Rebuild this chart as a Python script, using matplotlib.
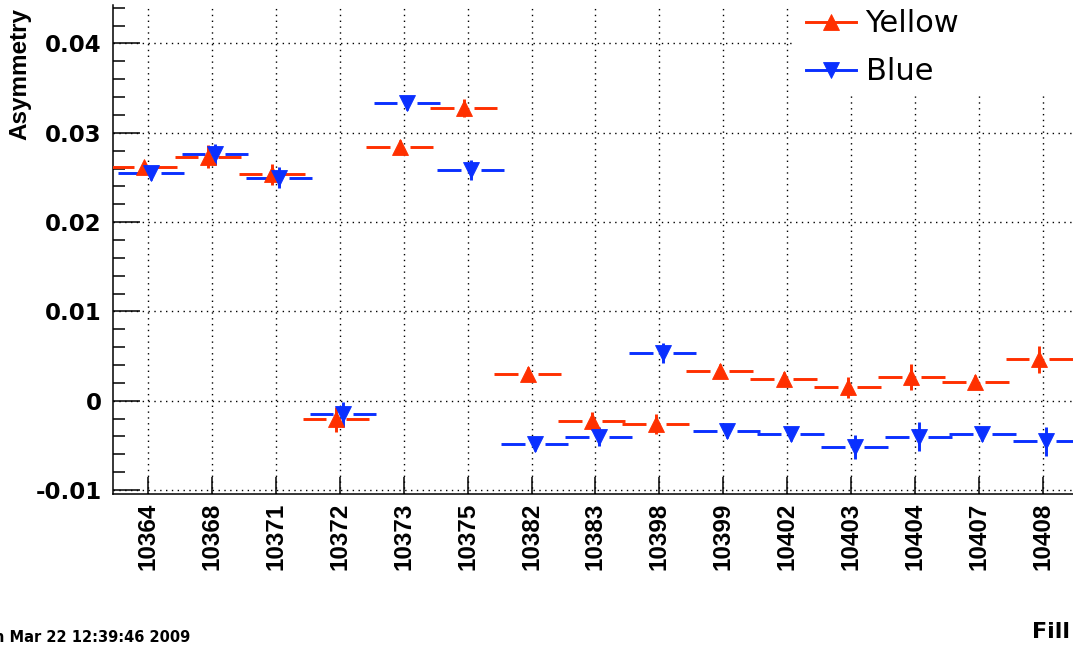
import matplotlib
matplotlib.use("Agg")
import matplotlib.pyplot as plt
from matplotlib import font_manager
from matplotlib.collections import LineCollection
from matplotlib.lines import Line2D
from matplotlib.patches import Rectangle
from matplotlib.ticker import FixedLocator, MultipleLocator
import numpy as np

# ---- data -------------------------------------------------------------
fills = ["10364", "10368", "10371", "10372", "10373", "10375", "10382", "10383",
         "10398", "10399", "10402", "10403", "10404", "10407", "10408"]

yellow = [0.02614, 0.02732, 0.02535, -0.00209, 0.02838, 0.03281, 0.00302, -0.00224,
          -0.00258, 0.00333, 0.00246, 0.00150, 0.00265, 0.00206, 0.00464]
yellow_err = [0.0006, 0.0013, 0.0012, 0.0014, 0.0008, 0.0010, 0.0008, 0.0010,
              0.0011, 0.0008, 0.0008, 0.0012, 0.0015, 0.0008, 0.0015]

blue = [0.02546, 0.02759, 0.02497, -0.00153, 0.03337, 0.02580, -0.00489, -0.00403,
        0.00531, -0.00339, -0.00373, -0.00518, -0.00403, -0.00373, -0.00455]
blue_err = [0.0008, 0.0012, 0.0012, 0.0014, 0.0008, 0.0011, 0.0008, 0.0011,
            0.0011, 0.0008, 0.0008, 0.0013, 0.0016, 0.0008, 0.0016]

y_ticks = [-0.01, 0.0, 0.01, 0.02, 0.03, 0.04]
y_tick_labels = ["-0.01", "0", "0.01", "0.02", "0.03", "0.04"]

RED = "#ff3000"
BLUE = "#0a30ff"

# ---- fonts ------------------------------------------------------------
installed = {f.name for f in font_manager.fontManager.ttflist}
if "Liberation Sans Narrow" in installed:
    ROT_FAMILY, ROT_SIZE = "Liberation Sans Narrow", 21
else:
    ROT_FAMILY, ROT_SIZE = "Liberation Sans", 17.5
HFAMILY = "DejaVu Sans"

# ---- figure -----------------------------------------------------------
W_PX, H_PX = 1073, 647
fig = plt.figure(figsize=(W_PX / 100, H_PX / 100), dpi=100)
fig.patch.set_facecolor("white")

left_px, right_px, top_px, bottom_px = 113.3, 1139.2, 5.0, 494.0
ax = fig.add_axes([left_px / W_PX, 1 - bottom_px / H_PX,
                   (right_px - left_px) / W_PX, (bottom_px - top_px) / H_PX])
ax.set_xlim(-0.538, 15.5)
ax.set_ylim(-0.01045, 0.04431)

for side in ("top", "right"):
    ax.spines[side].set_visible(False)
for side in ("left", "bottom"):
    ax.spines[side].set_linewidth(1.1)
    ax.spines[side].set_color("black")

xpos = np.arange(len(fills))
ax.xaxis.set_major_locator(FixedLocator(xpos))
ax.set_xticklabels(fills, rotation=90, fontsize=ROT_SIZE, fontweight="bold",
                   family=ROT_FAMILY)
ax.yaxis.set_major_locator(FixedLocator(y_ticks))
ax.set_yticklabels(y_tick_labels, fontsize=16.5, fontweight="bold", family=HFAMILY)
ax.yaxis.set_minor_locator(MultipleLocator(0.002))

ax.tick_params(axis="y", which="major", direction="in", length=19.4, width=1.1,
               pad=8.4, color="black")
ax.tick_params(axis="y", which="minor", direction="in", length=8.8, width=1.1,
               color="black")
ax.tick_params(axis="x", which="major", direction="in", length=12.2, width=1.1,
               pad=6.0, color="black")

ax.set_axisbelow(True)
ax.grid(True, which="major", color="black", linestyle=(0, (1, 3.2)), linewidth=1.0)

# white panel behind the legend
ax.add_patch(Rectangle((796 / W_PX, 1 - 95 / H_PX), 1.0, 95 / H_PX,
                       transform=fig.transFigure, facecolor="white",
                       edgecolor="none", zorder=1.5, clip_on=False))


def error_segments(xc, yc, err, half_width, h_gap):
    """Horizontal bin bars with a gap around the marker, plus vertical errors."""
    segs = []
    for x, y, e in zip(xc, yc, err):
        segs.append([(x - half_width, y), (x - h_gap, y)])
        segs.append([(x + h_gap, y), (x + half_width, y)])
        segs.append([(x, y - e), (x, y + e)])
    return segs


series = [
    (yellow, yellow_err, RED, "^", -0.06),
    (blue, blue_err, BLUE, "v", 0.05),
]
for vals, errs, col, mk, shift in series:
    xs = xpos + shift
    lc = LineCollection(error_segments(xs, vals, errs, 0.52, 0.155),
                        colors=col, linewidths=2.1, capstyle="butt", zorder=3)
    ax.add_collection(lc)
    ax.plot(xs, vals, linestyle="none", marker=mk, markersize=11.5, color=col,
            markeredgecolor=col, markeredgewidth=0.6, zorder=4)

# ---- legend -----------------------------------------------------------
handles = [
    Line2D([], [], color=RED, lw=2.1, marker="^", markersize=11.5, mew=0.6),
    Line2D([], [], color=BLUE, lw=2.1, marker="v", markersize=11.5, mew=0.6),
]
leg = ax.legend(handles, ["Yellow", "Blue"], loc="upper left",
                bbox_to_anchor=(806 / W_PX, 1 - 9.5 / H_PX),
                bbox_transform=fig.transFigure, frameon=False,
                prop={"family": HFAMILY, "size": 22},
                handlelength=1.63, handletextpad=0.32, labelspacing=0.62,
                borderpad=0, borderaxespad=0)
leg.set_zorder(5)

# ---- axis titles and stamp -------------------------------------------
fig.text(8 / W_PX, 1 - 8 / H_PX, "Asymmetry", rotation=90, ha="left", va="top",
         fontsize=ROT_SIZE, fontweight="bold", family=ROT_FAMILY)
fig.text(1070 / W_PX, 9 / H_PX, "Fill", ha="right", va="baseline",
         fontsize=16, fontweight="bold", family=HFAMILY)
fig.text(190 / W_PX, 5 / H_PX, "Sun Mar 22 12:39:46 2009", ha="right",
         va="baseline", fontsize=10.5, fontweight="bold", family=HFAMILY)

fig.savefig("out.png", dpi=100, facecolor="white")
